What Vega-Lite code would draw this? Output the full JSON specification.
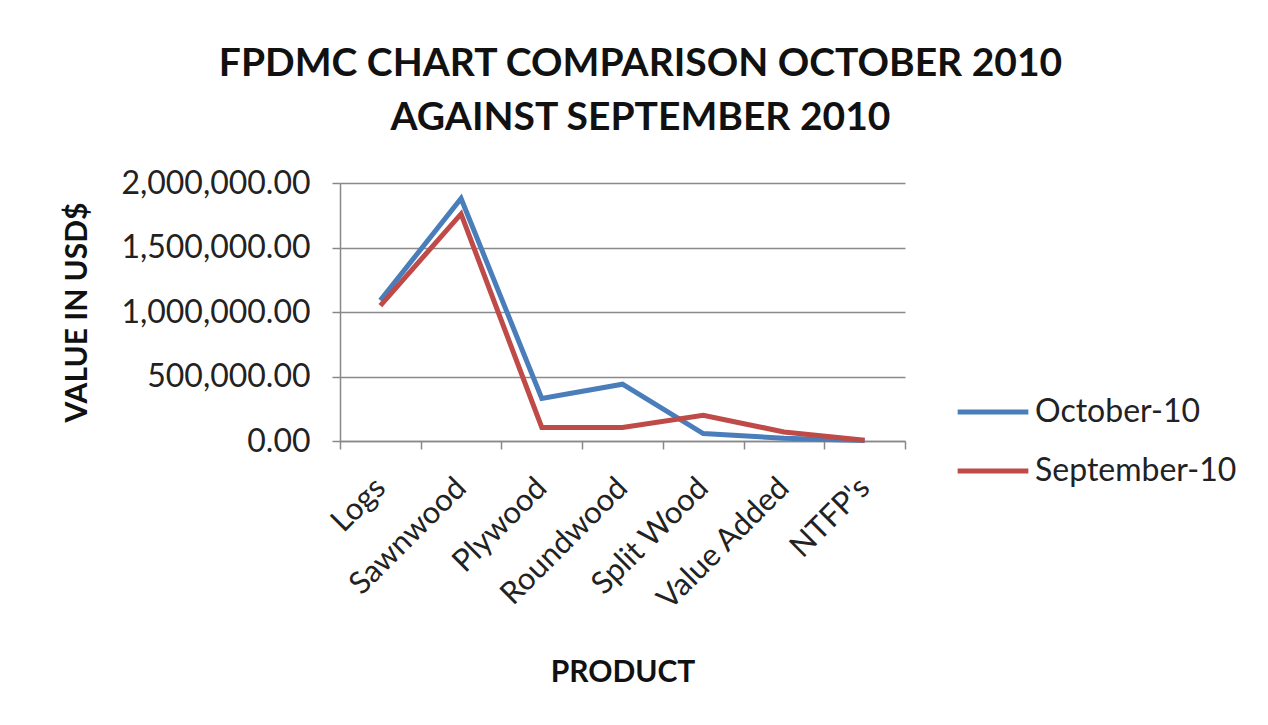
{
  "$schema": "https://vega.github.io/schema/vega-lite/v6.json",
  "width": 565,
  "height": 258,
  "autosize": "none",
  "padding": {"left": 340, "top": 183, "right": 363, "bottom": 284},
  "background": "white",
  "title": {
    "text": ["FPDMC CHART COMPARISON OCTOBER 2010", "AGAINST SEPTEMBER 2010"],
    "font": "Lato",
    "fontSize": 39,
    "fontWeight": "bold",
    "color": "#111111",
    "lineHeight": 54,
    "anchor": "middle",
    "dx": 18,
    "offset": 29
  },
  "data": {
    "values": [
      {"product": "Logs", "series": "October-10", "value": 1090000},
      {"product": "Sawnwood", "series": "October-10", "value": 1880000},
      {"product": "Plywood", "series": "October-10", "value": 330000},
      {"product": "Roundwood", "series": "October-10", "value": 440000},
      {"product": "Split Wood", "series": "October-10", "value": 58000},
      {"product": "Value Added", "series": "October-10", "value": 22000},
      {"product": "NTFP's", "series": "October-10", "value": 4000},
      {"product": "Logs", "series": "September-10", "value": 1050000},
      {"product": "Sawnwood", "series": "September-10", "value": 1760000},
      {"product": "Plywood", "series": "September-10", "value": 105000},
      {"product": "Roundwood", "series": "September-10", "value": 105000},
      {"product": "Split Wood", "series": "September-10", "value": 200000},
      {"product": "Value Added", "series": "September-10", "value": 70000},
      {"product": "NTFP's", "series": "September-10", "value": 6000}
    ]
  },
  "mark": {"type": "line", "strokeWidth": 5},
  "encoding": {
    "x": {
      "field": "product",
      "type": "nominal",
      "sort": ["Logs", "Sawnwood", "Plywood", "Roundwood", "Split Wood", "Value Added", "NTFP's"],
      "scale": {"type": "band", "paddingInner": 0, "paddingOuter": 0},
      "axis": {
        "title": "PRODUCT",
        "titleFont": "Lato",
        "titleFontSize": 30,
        "titleFontWeight": "bold",
        "titleColor": "#111111",
        "titlePadding": 42,
        "labelAngle": -45,
        "labelAlign": "right",
        "labelBaseline": "middle",
        "labelFont": "Lato",
        "labelFontSize": 31,
        "labelColor": "#222222",
        "labelPadding": 34,
        "labelLimit": 0,
        "tickBand": "extent",
        "ticks": true,
        "tickSize": 8,
        "tickColor": "#888888",
        "tickWidth": 1.5,
        "domainColor": "#888888",
        "domainWidth": 1.5,
        "grid": false
      }
    },
    "y": {
      "field": "value",
      "type": "quantitative",
      "scale": {"domain": [0, 2000000], "nice": false},
      "axis": {
        "title": "VALUE IN USD$",
        "titleFont": "Lato",
        "titleFontSize": 30,
        "titleFontWeight": "bold",
        "titleColor": "#111111",
        "titlePadding": 48,
        "values": [0, 500000, 1000000, 1500000, 2000000],
        "format": ",.2f",
        "labelFont": "Lato",
        "labelFontSize": 32,
        "labelColor": "#222222",
        "labelPadding": 22,
        "labelLimit": 0,
        "tickSize": 8,
        "tickColor": "#888888",
        "tickWidth": 1.5,
        "domainColor": "#888888",
        "domainWidth": 1.5,
        "grid": true,
        "gridColor": "#8a8a8a",
        "gridWidth": 1.5
      }
    },
    "color": {
      "field": "series",
      "type": "nominal",
      "scale": {"domain": ["October-10", "September-10"], "range": ["#4A7EBB", "#BE4B48"]},
      "legend": {
        "title": null,
        "orient": "none",
        "legendX": 615,
        "legendY": 214,
        "symbolType": "stroke",
        "symbolSize": 5000,
        "symbolStrokeWidth": 5,
        "labelFont": "Lato",
        "labelFontSize": 32,
        "labelColor": "#222222",
        "labelOffset": 4,
        "labelLimit": 0,
        "clipHeight": 30,
        "rowPadding": 27
      }
    }
  },
  "config": {"view": {"stroke": null}}
}
